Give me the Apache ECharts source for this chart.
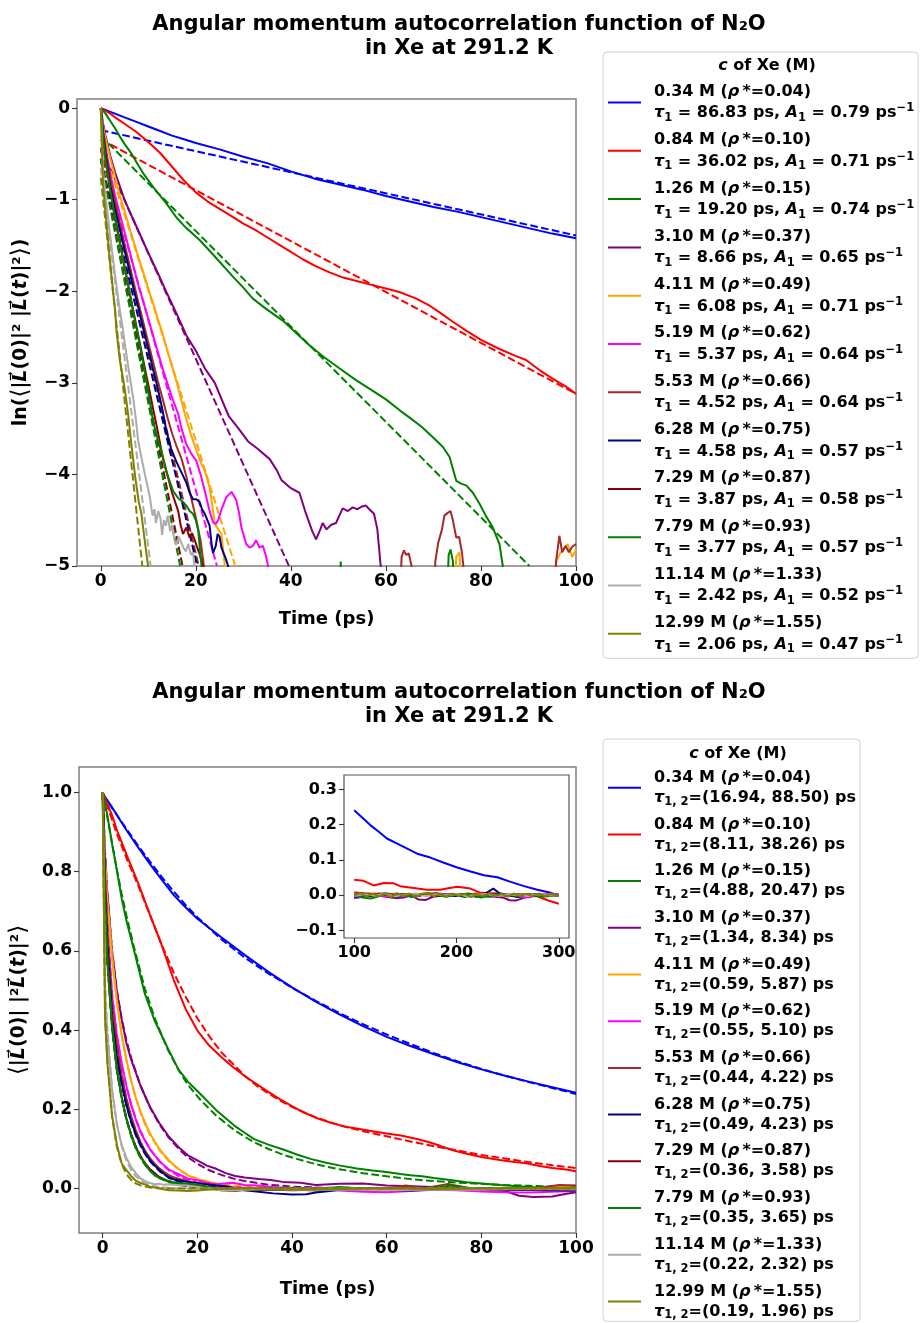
<!DOCTYPE html>
<html><head><meta charset="utf-8">
<script src="https://cdn.jsdelivr.net/npm/echarts@6/dist/echarts.min.js"></script>
<style>html,body{margin:0;padding:0;background:#fff}#c{width:921px;height:1323px}</style>
</head><body><div id="c"></div><script>
// ---------- labels ----------
const conc  = ['0.34','0.84','1.26','3.10','4.11','5.19','5.53','6.28','7.29','7.79','11.14','12.99'];
const rho   = ['0.04','0.10','0.15','0.37','0.49','0.62','0.66','0.75','0.87','0.93','1.33','1.55'];
const tau1  = ['86.83','36.02','19.20','8.66','6.08','5.37','4.52','4.58','3.87','3.77','2.42','2.06'];
const amp1  = ['0.79','0.71','0.74','0.65','0.71','0.64','0.64','0.57','0.58','0.57','0.52','0.47'];
const tauA  = ['16.94','8.11','4.88','1.34','0.59','0.55','0.44','0.49','0.36','0.35','0.22','0.19'];
const tauB  = ['88.50','38.26','20.47','8.34','5.87','5.10','4.22','4.23','3.58','3.65','2.32','1.96'];
const colors = ['#0000FF','#FF0000','#008000','#800080','#FFA500','#FF00FF','#A52A2A','#000080','#8B0000','#008000','#ABABAB','#808000'];
const xTicks = [0,20,40,60,80,100];
const yTicksTop = [-5,-4,-3,-2,-1,0];
const yTicksBot = [0,0.2,0.4,0.6,0.8,1.0];
const xTicksIns = [100,200,300];
const yTicksIns = [-0.1,0,0.1,0.2,0.3];

// ---------- top panel: ln of ACF (solid) ----------
const lnBlue = [[0,0],[1,-0.02],[2,-0.04],[3,-0.06],[5,-0.1],[7.5,-0.15],[10,-0.2],[12.5,-0.25],[15,-0.3],[17.5,-0.34],[20,-0.38],[25,-0.45],[30,-0.53],[35,-0.6],[40,-0.69],[45,-0.77],[50,-0.83],[55,-0.89],[60,-0.96],[65,-1.02],[70,-1.08],[75,-1.13],[80,-1.19],[85,-1.25],[90,-1.31],[95,-1.37],[100,-1.42]];
const lnRed = [[0,0],[1,-0.03],[2,-0.06],[3,-0.1],[5,-0.17],[7.5,-0.26],[10,-0.37],[12.5,-0.49],[15,-0.64],[17.5,-0.79],[20,-0.92],[22.5,-1.02],[25,-1.1],[27.5,-1.18],[30,-1.26],[32.5,-1.33],[35,-1.41],[37.5,-1.49],[40,-1.57],[42.5,-1.65],[45,-1.72],[48,-1.79],[51,-1.85],[54,-1.89],[57,-1.93],[60,-1.97],[63,-2.01],[66.4,-2.08],[69,-2.15],[71.3,-2.23],[74,-2.33],[76.9,-2.43],[80,-2.53],[83.9,-2.63],[87,-2.7],[89.5,-2.75],[92.3,-2.86],[95,-2.95],[97.9,-3.04],[100,-3.12]];
const lnGreen = [[0,0],[1,-0.06],[2,-0.14],[3,-0.22],[4,-0.31],[5,-0.39],[6.5,-0.5],[8.9,-0.71],[11,-0.86],[13.8,-1.04],[16,-1.2],[18,-1.31],[20.8,-1.44],[24,-1.62],[27.8,-1.84],[30,-1.96],[32,-2.08],[35,-2.2],[38.3,-2.32],[41,-2.45],[43.9,-2.59],[47,-2.72],[50.2,-2.84],[53.7,-2.97],[57,-3.08],[60,-3.18],[62.9,-3.3],[65,-3.38],[67.5,-3.48],[70,-3.6],[72,-3.7],[73.4,-3.81],[74.8,-4.07],[75.8,-4.1],[76.9,-4.12],[78.3,-4.2],[79.7,-4.32],[81,-4.45],[82.5,-4.58],[83.9,-4.76],[84.6,-5.0],[85,-5.6]];
const lnPurple = [[0,0],[0.5,-0.17],[1,-0.3],[2,-0.52],[3,-0.7],[4,-0.85],[5,-1.0],[6,-1.12],[8,-1.35],[10,-1.58],[12,-1.8],[14,-2.03],[16,-2.25],[18,-2.48],[20,-2.65],[22,-2.85],[24,-3.0],[26,-3.25],[27,-3.37],[29,-3.5],[31,-3.64],[33,-3.72],[35.5,-3.83],[37,-3.95],[38,-4.06],[40,-4.15],[41.8,-4.2],[43,-4.4],[44.5,-4.62],[45.3,-4.71],[46.2,-4.6],[46.7,-4.53],[47.5,-4.6],[48.5,-4.55],[49.5,-4.53],[50.2,-4.45],[50.9,-4.37],[52,-4.4],[53,-4.36],[54,-4.38],[55,-4.35],[55.8,-4.34],[56.5,-4.38],[57.5,-4.43],[58.2,-4.6],[58.9,-5.0],[59.3,-5.6]];
const lnOrange = [[0,0],[0.5,-0.2],[1,-0.33],[2,-0.55],[3,-0.75],[4,-0.95],[5,-1.12],[6,-1.3],[7,-1.47],[8,-1.64],[9,-1.8],[10,-1.97],[11,-2.13],[12,-2.3],[13,-2.46],[14,-2.65],[15,-2.82],[16,-3.0],[17,-3.2],[18,-3.4],[19,-3.57],[20,-3.72],[21,-3.86],[22,-3.98],[22.9,-4.14],[23.5,-4.35],[24,-4.54],[24.7,-4.6],[25.4,-4.65],[26.1,-5.0],[26.5,-5.6],[74.2,-5.6],[74.8,-4.9],[75.5,-4.85],[76,-5.6],[94.5,-5.6],[95.9,-4.94],[96.8,-4.85],[98.2,-4.76],[99.2,-4.9],[100,-4.82]];
const lnMagenta = [[0,0],[0.5,-0.25],[1,-0.42],[2,-0.72],[3,-0.95],[4,-1.15],[5,-1.35],[6,-1.55],[7,-1.75],[8,-1.95],[9,-2.12],[10,-2.3],[11,-2.48],[12,-2.66],[13,-2.84],[13.8,-2.97],[15,-3.16],[16.3,-3.34],[17,-3.5],[18,-3.67],[19,-3.77],[20.1,-3.85],[21,-4.0],[21.9,-4.18],[22.8,-4.38],[23.6,-4.52],[24.2,-4.54],[24.7,-4.5],[25.5,-4.37],[26.4,-4.25],[27.5,-4.19],[28.5,-4.28],[29.1,-4.42],[29.6,-4.58],[30.6,-4.76],[31.3,-4.8],[32,-4.78],[32.7,-4.72],[33.4,-4.8],[34.1,-4.78],[34.7,-4.88],[35.2,-5.0],[35.6,-5.6]];
const lnBrown = [[0,0],[0.5,-0.25],[1,-0.45],[2,-0.78],[3,-1.02],[4,-1.25],[5,-1.48],[6,-1.7],[7,-1.92],[8,-2.14],[9,-2.35],[10,-2.56],[11,-2.77],[12,-2.98],[13,-3.17],[14,-3.37],[15,-3.55],[16,-3.7],[17,-3.83],[18,-4.02],[19,-4.25],[20,-4.47],[21,-4.72],[21.7,-5.0],[22,-5.6],[62.8,-5.6],[63.3,-4.9],[63.8,-4.83],[64.3,-4.88],[64.8,-4.86],[65.4,-5.0],[65.8,-5.6],[70,-5.6],[70.4,-4.95],[71,-4.75],[71.8,-4.6],[72.3,-4.45],[73,-4.42],[73.6,-4.4],[74.1,-4.5],[74.8,-4.69],[75.4,-4.68],[76,-4.85],[76.3,-5.0],[76.6,-5.6],[95.2,-5.6],[95.8,-4.95],[96.5,-4.67],[97.1,-4.85],[97.8,-4.78],[98.5,-4.85],[99.2,-4.79],[100,-4.76]];
const lnNavy = [[0,0],[0.5,-0.3],[1,-0.5],[2,-0.85],[3,-1.1],[4,-1.32],[5,-1.55],[6,-1.77],[7,-1.99],[8,-2.2],[9,-2.42],[10,-2.63],[11,-2.85],[12,-3.06],[13,-3.3],[13.8,-3.52],[14.8,-3.72],[15.9,-3.86],[17,-3.98],[18,-4.09],[18.7,-4.2],[19.4,-4.27],[20.1,-4.27],[20.8,-4.3],[21.3,-4.38],[21.9,-4.43],[22.9,-4.56],[23.3,-4.75],[23.6,-4.86],[24.2,-4.78],[24.6,-4.65],[25,-4.68],[25.4,-4.8],[25.7,-4.84],[26.3,-4.92],[26.8,-5.0],[27.2,-5.6]];
const lnDarkred = [[0,0],[0.5,-0.32],[1,-0.55],[2,-0.9],[3,-1.2],[4,-1.46],[5,-1.73],[6,-1.99],[7,-2.25],[8,-2.51],[9,-2.77],[10,-3.02],[11,-3.28],[12,-3.53],[13,-3.8],[14,-4.0],[15,-4.2],[16.3,-4.4],[16.8,-4.55],[17.3,-4.65],[18,-4.58],[18.7,-4.69],[19.2,-4.64],[19.8,-4.72],[20.3,-4.8],[20.8,-4.87],[21.5,-5.0],[21.8,-5.6]];
const lnGreen2 = [[0,0],[0.5,-0.32],[1,-0.56],[2,-0.9],[3,-1.2],[4,-1.47],[5,-1.73],[6,-2.0],[7,-2.27],[8,-2.53],[9,-2.8],[10,-3.1],[11,-3.42],[12,-3.62],[13,-3.8],[13.8,-3.97],[15.2,-4.18],[16.3,-4.26],[17.3,-4.3],[18,-4.34],[18.7,-4.4],[19.4,-4.43],[20,-4.5],[20.5,-4.61],[21.2,-5.0],[21.5,-5.6],[50.2,-5.6],[50.5,-4.95],[50.8,-5.6],[72.7,-5.6],[73.2,-4.88],[73.6,-4.82],[74.1,-4.95],[74.5,-5.6]];
const lnGray = [[0,0],[0.5,-0.7],[1,-0.95],[2,-1.4],[3,-1.82],[4,-2.2],[4.7,-2.43],[5,-2.55],[6,-2.9],[6.8,-3.16],[7.4,-3.4],[7.85,-3.63],[8.5,-3.8],[9.25,-3.99],[9.8,-4.12],[10.3,-4.24],[10.9,-4.45],[11.3,-4.38],[11.6,-4.53],[12.1,-4.4],[12.6,-4.49],[12.9,-4.66],[13.3,-4.5],[13.7,-4.56],[14.1,-4.45],[14.6,-4.62],[15,-4.55],[15.5,-4.72],[15.9,-4.77],[16.4,-4.68],[16.9,-4.74],[17.4,-4.8],[17.9,-4.84],[18.4,-4.76],[19,-4.88],[19.4,-4.85],[19.7,-4.99],[20.1,-5.6]];
const lnOlive = [[0,0],[0.5,-0.85],[1,-1.15],[2,-1.7],[3,-2.2],[3.3,-2.43],[4,-2.75],[5,-3.05],[5.75,-3.34],[6.5,-3.7],[7.3,-4.05],[8,-4.3],[8.55,-4.43],[9.2,-4.7],[9.95,-5.0],[10.3,-5.6]];

// ---------- top panel: single-exponential fits (dashed, straight in ln) ----------
const lnFitBlue = [[0,-0.24],[100,-1.39]];
const lnFitRed = [[0,-0.34],[100,-3.12]];
const lnFitGreen = [[0,-0.30],[90.2,-5]];
const lnFitPurple = [[0,-0.43],[39.6,-5]];
const lnFitOrange = [[0,-0.34],[28.3,-5]];
const lnFitMagenta = [[0,-0.45],[24.45,-5]];
const lnFitBrown = [[0,-0.45],[20.6,-5]];
const lnFitNavy = [[0,-0.56],[20.3,-5]];
const lnFitDarkred = [[0,-0.55],[17.2,-5]];
const lnFitGreen2 = [[0,-0.56],[16.7,-5]];
const lnFitGray = [[0,-0.65],[10.5,-5]];
const lnFitOlive = [[0,-0.76],[8.74,-5]];

// ---------- bottom panel: ACF (solid) ----------
const acfBlue = [[0,1.0],[0.5,0.988],[1,0.98],[2,0.962],[3,0.943],[5,0.905],[7.5,0.861],[10,0.819],[12.5,0.779],[15,0.741],[17.5,0.71],[20,0.681],[25,0.635],[30,0.59],[35,0.547],[40,0.508],[45,0.472],[50,0.44],[55,0.41],[60,0.383],[65,0.36],[70,0.339],[75,0.319],[80,0.301],[85,0.285],[90,0.27],[95,0.256],[100,0.242]];
const acfRed = [[0,1.0],[1,0.97],[2,0.942],[3,0.905],[5,0.844],[7.5,0.771],[10,0.691],[12.5,0.613],[15,0.527],[17.5,0.454],[20,0.399],[22.5,0.361],[25,0.333],[27.5,0.307],[30,0.284],[32.5,0.264],[35,0.244],[37.5,0.225],[40,0.208],[42.5,0.192],[45,0.179],[48,0.167],[51,0.157],[54,0.151],[57,0.145],[60,0.139],[63,0.134],[66.4,0.125],[69,0.117],[71.3,0.108],[74,0.097],[76.9,0.088],[80,0.08],[83.9,0.072],[87,0.067],[89.5,0.064],[92.3,0.057],[95,0.052],[97.9,0.048],[100,0.044]];
const acfGreen = [[0,1.0],[1,0.942],[2,0.869],[3,0.803],[4,0.733],[5,0.677],[6.5,0.607],[8.9,0.492],[11,0.423],[13.8,0.353],[16,0.301],[18,0.27],[20.8,0.237],[24,0.198],[27.8,0.159],[30,0.141],[32,0.125],[35,0.111],[38.3,0.098],[41,0.086],[43.9,0.075],[47,0.066],[50.2,0.058],[53.7,0.051],[57,0.046],[60,0.042],[62.9,0.037],[65,0.034],[67.5,0.031],[70,0.027],[73.4,0.022],[76.9,0.016],[80,0.013],[84,0.009],[90,0.004],[95,0.002],[100,0.0]];
const acfPurple = [[0,1.0],[0.5,0.84],[1,0.74],[2,0.595],[3,0.497],[4,0.427],[5,0.368],[6,0.326],[8,0.259],[10,0.206],[12,0.165],[14,0.131],[16,0.105],[18,0.084],[20,0.071],[22,0.058],[24,0.05],[26,0.039],[28,0.032],[30,0.028],[33,0.024],[35.5,0.022],[38,0.017],[41.8,0.015],[45,0.009],[50,0.012],[55,0.013],[60,0.008],[65,0.006],[70,0.004],[75,0.002],[80,0.0],[85,-0.006],[88,-0.018],[91,-0.021],[95,-0.02],[98,-0.013],[100,-0.009]];
const acfOrange = [[0,1.0],[0.5,0.82],[1,0.72],[2,0.577],[3,0.472],[4,0.387],[5,0.326],[6,0.273],[7,0.23],[8,0.194],[9,0.165],[10,0.139],[11,0.119],[12,0.1],[13,0.085],[14,0.071],[15,0.06],[16,0.05],[17,0.041],[18,0.033],[19,0.028],[20,0.024],[22,0.019],[24,0.011],[26,0.006],[28,0.004],[30,0.0],[35,-0.002],[40,0.003],[45,-0.004],[50,0.002],[55,-0.003],[60,0.001],[65,-0.002],[70,0.003],[75,0.006],[80,-0.003],[85,0.002],[90,-0.002],[95,0.005],[100,0.008]];
const acfMagenta = [[0,1.0],[0.5,0.78],[1,0.657],[2,0.487],[3,0.387],[4,0.317],[5,0.259],[6,0.212],[7,0.174],[8,0.142],[9,0.12],[10,0.1],[11,0.084],[12,0.07],[13,0.058],[14,0.048],[15,0.042],[16.3,0.035],[18,0.025],[20,0.021],[22,0.015],[24,0.011],[27.5,0.015],[30,0.009],[33,0.008],[36,0.004],[40,0.001],[45,-0.003],[50,-0.005],[55,-0.008],[60,-0.009],[65,-0.006],[70,-0.003],[75,-0.004],[80,-0.007],[85,-0.009],[90,-0.01],[95,-0.008],[100,-0.006]];
const acfBrown = [[0,1.0],[0.5,0.78],[1,0.638],[2,0.458],[3,0.361],[4,0.287],[5,0.228],[6,0.183],[7,0.147],[8,0.118],[9,0.095],[10,0.077],[11,0.063],[12,0.051],[13,0.042],[14,0.034],[15,0.029],[16,0.025],[17,0.022],[18,0.018],[20,0.011],[22,0.004],[25,-0.002],[30,-0.004],[35,-0.003],[40,-0.002],[45,-0.005],[50,-0.003],[55,-0.002],[60,-0.001],[64,0.008],[68,0.001],[73,0.012],[77,0.002],[80,-0.003],[85,-0.002],[90,-0.001],[96.5,0.009],[100,0.008]];
const acfNavy = [[0,1.0],[0.5,0.74],[1,0.607],[2,0.427],[3,0.333],[4,0.267],[5,0.212],[6,0.17],[7,0.137],[8,0.111],[9,0.089],[10,0.072],[11,0.058],[12,0.047],[13,0.037],[14,0.027],[16,0.021],[18,0.017],[20,0.014],[22,0.011],[24,0.008],[26,0.006],[28,0.0],[30,-0.004],[33,-0.008],[36,-0.012],[40,-0.015],[43,-0.014],[45,-0.01],[48,-0.006],[50,-0.003],[55,-0.002],[60,-0.003],[65,-0.005],[70,-0.002],[75,0.0],[80,-0.002],[85,-0.004],[90,-0.003],[95,-0.004],[100,-0.005]];
const acfDarkred = [[0,1.0],[0.5,0.726],[1,0.577],[2,0.407],[3,0.301],[4,0.232],[5,0.177],[6,0.137],[7,0.105],[8,0.081],[9,0.063],[10,0.049],[11,0.038],[12,0.029],[13,0.022],[14,0.018],[15,0.015],[16,0.012],[18,0.01],[20,0.008],[22,0.003],[25,-0.004],[28,-0.006],[30,-0.003],[35,-0.002],[40,-0.004],[45,-0.003],[50,-0.002],[55,-0.003],[60,-0.004],[65,-0.002],[70,-0.001],[75,-0.002],[80,0.0],[85,-0.002],[90,0.0],[95,-0.001],[100,0.001]];
const acfGreen2 = [[0,1.0],[0.5,0.726],[1,0.571],[2,0.407],[3,0.301],[4,0.23],[5,0.177],[6,0.135],[7,0.103],[8,0.08],[9,0.061],[10,0.045],[11,0.033],[12,0.027],[13,0.022],[14,0.019],[15,0.016],[16,0.014],[18,0.013],[20,0.011],[22,0.005],[25,0.0],[30,-0.003],[35,-0.001],[40,-0.002],[45,-0.001],[50,0.004],[55,0.0],[60,-0.002],[65,-0.001],[70,0.002],[73.5,0.008],[77,0.002],[80,-0.001],[85,0.001],[90,0.0],[95,0.001],[100,0.002]];
const acfGray = [[0,1.0],[0.5,0.5],[1,0.387],[2,0.247],[3,0.162],[4,0.111],[5,0.078],[6,0.055],[7,0.039],[8,0.026],[9,0.019],[10,0.014],[11,0.011],[12,0.012],[13,0.01],[14,0.011],[15,0.01],[16,0.009],[18,0.008],[20,0.005],[22,0.0],[25,-0.004],[28,-0.005],[30,-0.003],[35,-0.001],[40,-0.003],[50,-0.002],[60,-0.004],[70,-0.002],[80,-0.003],[90,-0.001],[100,-0.002]];
const acfOlive = [[0,1.0],[0.5,0.427],[1,0.317],[2,0.183],[3,0.111],[4,0.064],[5,0.047],[6,0.032],[7,0.02],[8,0.014],[9,0.01],[10,0.005],[12,0.0],[14,-0.004],[16,-0.005],[18,-0.006],[20,-0.005],[22,-0.003],[25,-0.001],[30,0.001],[35,0.0],[40,-0.002],[50,-0.001],[60,0.001],[70,-0.001],[80,0.0],[90,0.001],[100,0.0]];

// ---------- bottom panel: bi-exponential fits (dashed) ----------
const acfFitBlue = [[0,0.995],[1,0.977],[2,0.96],[3,0.943],[5,0.908],[7.5,0.865],[10,0.825],[12.5,0.786],[15,0.75],[17.5,0.716],[20,0.685],[25,0.63],[30,0.583],[35,0.543],[40,0.507],[45,0.474],[50,0.443],[55,0.415],[60,0.389],[65,0.365],[70,0.342],[75,0.321],[80,0.302],[85,0.285],[90,0.269],[95,0.254],[100,0.239]];
const acfFitRed = [[0,1.0],[1,0.965],[2,0.93],[3,0.895],[5,0.835],[7.5,0.765],[10,0.69],[12.5,0.615],[15,0.545],[17.5,0.485],[20,0.43],[22.5,0.385],[25,0.345],[27.5,0.315],[30,0.285],[32.5,0.26],[35,0.24],[37.5,0.222],[40,0.206],[45,0.18],[50,0.16],[55,0.145],[60,0.132],[65,0.119],[70,0.107],[75,0.096],[80,0.085],[85,0.076],[90,0.067],[95,0.059],[100,0.052]];
const acfFitGreen = [[0,1.0],[1,0.935],[2,0.87],[3,0.805],[4,0.745],[5,0.69],[6.5,0.615],[8.9,0.505],[11,0.43],[13.8,0.35],[16,0.3],[18,0.262],[20.8,0.222],[24,0.184],[27.8,0.148],[30,0.131],[32,0.117],[35,0.1],[38.3,0.085],[41,0.075],[44,0.065],[47,0.056],[50,0.049],[55,0.039],[60,0.031],[65,0.024],[70,0.019],[75,0.015],[80,0.012],[85,0.009],[90,0.007],[95,0.005],[100,0.004]];
const acfFitPurple = [[0,1.0],[0.5,0.85],[1,0.745],[2,0.6],[3,0.5],[4,0.43],[5,0.375],[6,0.33],[8,0.26],[10,0.205],[12,0.162],[14,0.128],[16,0.101],[18,0.079],[20,0.063],[22,0.049],[24,0.039],[26,0.031],[28,0.024],[30,0.019],[35,0.01],[40,0.005],[50,0.001],[60,0.0],[100,0.0]];
const acfFitOrange = [[0,1.0],[0.5,0.83],[1,0.73],[2,0.585],[3,0.475],[4,0.39],[5,0.325],[6,0.272],[7,0.228],[8,0.192],[9,0.161],[10,0.136],[12,0.097],[14,0.069],[16,0.049],[18,0.035],[20,0.025],[22,0.018],[25,0.011],[30,0.005],[40,0.001],[100,0.0]];
const acfFitMagenta = [[0,1.0],[0.5,0.79],[1,0.66],[2,0.49],[3,0.385],[4,0.315],[5,0.258],[6,0.213],[7,0.176],[8,0.145],[9,0.12],[10,0.099],[12,0.068],[14,0.046],[16,0.032],[18,0.022],[20,0.015],[24,0.007],[30,0.002],[40,0.0],[100,0.0]];
const acfFitBrown = [[0,1.0],[0.5,0.79],[1,0.65],[2,0.46],[3,0.36],[4,0.285],[5,0.226],[6,0.18],[7,0.144],[8,0.115],[9,0.092],[10,0.073],[12,0.047],[14,0.03],[16,0.019],[18,0.012],[20,0.008],[25,0.003],[30,0.001],[100,0.0]];
const acfFitNavy = [[0,1.0],[0.5,0.75],[1,0.61],[2,0.43],[3,0.335],[4,0.265],[5,0.21],[6,0.168],[7,0.135],[8,0.108],[9,0.087],[10,0.069],[12,0.044],[14,0.028],[16,0.018],[18,0.011],[20,0.007],[25,0.002],[30,0.001],[100,0.0]];
const acfFitDarkred = [[0,1.0],[0.5,0.72],[1,0.57],[2,0.405],[3,0.3],[4,0.23],[5,0.177],[6,0.137],[7,0.106],[8,0.082],[9,0.063],[10,0.049],[12,0.029],[14,0.018],[16,0.011],[18,0.006],[20,0.004],[25,0.001],[100,0.0]];
const acfFitGreen2 = [[0,1.0],[0.5,0.73],[1,0.575],[2,0.41],[3,0.3],[4,0.228],[5,0.174],[6,0.133],[7,0.101],[8,0.077],[9,0.059],[10,0.045],[12,0.026],[14,0.016],[16,0.009],[18,0.006],[20,0.003],[25,0.001],[100,0.0]];
const acfFitGray = [[0,1.0],[0.5,0.52],[1,0.4],[2,0.25],[3,0.163],[4,0.108],[5,0.071],[6,0.047],[7,0.031],[8,0.021],[9,0.014],[10,0.009],[12,0.004],[15,0.001],[20,0.0],[100,0.0]];
const acfFitOlive = [[0,1.0],[0.5,0.44],[1,0.32],[2,0.18],[3,0.105],[4,0.062],[5,0.037],[6,0.022],[7,0.013],[8,0.008],[9,0.005],[10,0.003],[12,0.001],[15,0.0],[100,0.0]];

// ---------- inset: ACF tail 100-300 ps ----------
const insBlue = [[100,0.241],[108,0.22],[115.7,0.199],[124,0.18],[132,0.161],[145,0.142],[161.5,0.118],[174.5,0.107],[187,0.093],[200.7,0.079],[213,0.068],[226.8,0.057],[239.9,0.051],[253,0.038],[266,0.026],[279,0.016],[292,0.007],[300,0.0]];
const insRed = [[100,0.044],[109,0.041],[119,0.028],[128.8,0.035],[138.6,0.034],[145,0.026],[158,0.021],[171,0.016],[184,0.016],[192,0.02],[200.7,0.024],[213.7,0.019],[223.5,0.007],[240,0.005],[259,0.0],[279,-0.003],[289,-0.014],[300,-0.024]];
const insGreen = [[100,0.003],[112,-0.004],[124,0.005],[136,-0.006],[148,0.002],[160,-0.003],[172,0.006],[184,-0.002],[196,0.003],[208,-0.005],[220,0.002],[232,-0.004],[244,0.003],[256,-0.002],[268,0.004],[280,-0.003],[292,0.002],[300,0.0]];
const insPurple = [[100,-0.008],[110,-0.004],[120,0.002],[130,-0.003],[140,-0.008],[148,-0.006],[156,0.0],[163,-0.012],[170,-0.013],[177,-0.004],[190,0.002],[200,-0.002],[215,0.003],[230,-0.002],[245,-0.006],[252,-0.014],[258,-0.015],[265,-0.008],[275,0.002],[285,-0.003],[300,0.001]];
const insOrange = [[100,0.008],[110,0.004],[120,0.006],[130,0.001],[140,0.005],[150,-0.002],[160,0.003],[170,0.006],[180,0.002],[190,-0.002],[200,0.004],[210,0.001],[220,0.005],[230,0.0],[240,0.004],[250,0.002],[260,-0.002],[270,0.003],[280,0.001],[290,0.004],[300,0.0]];
const insMagenta = [[100,-0.006],[110,-0.002],[120,0.002],[130,-0.004],[140,0.001],[150,-0.003],[160,0.004],[170,0.002],[180,-0.002],[190,0.003],[200,-0.001],[210,0.002],[220,-0.003],[230,0.001],[240,-0.002],[250,0.003],[260,-0.004],[270,-0.006],[280,0.001],[290,0.003],[300,0.002]];
const insBrown = [[100,0.008],[110,0.006],[120,0.003],[130,0.006],[140,0.002],[150,0.004],[160,0.0],[170,0.003],[180,0.006],[190,0.002],[200,0.004],[210,0.001],[220,0.005],[230,0.002],[240,0.004],[250,-0.001],[260,0.003],[270,0.001],[280,0.004],[290,0.0],[300,0.002]];
const insNavy = [[100,-0.005],[110,0.0],[120,-0.004],[130,0.002],[140,-0.003],[150,0.001],[160,-0.002],[170,0.002],[180,-0.003],[190,0.001],[200,-0.002],[210,0.0],[220,-0.004],[228,0.005],[236,0.019],[242,0.006],[250,0.0],[260,-0.005],[270,0.002],[280,-0.002],[290,0.001],[300,-0.002]];
const insDarkred = [[100,0.001],[110,0.004],[120,-0.002],[130,0.003],[140,0.0],[150,0.004],[160,-0.003],[170,0.002],[180,0.005],[190,-0.001],[200,0.002],[210,0.004],[220,-0.002],[230,0.001],[240,0.003],[250,-0.002],[260,0.002],[270,0.0],[280,0.003],[290,-0.002],[300,0.001]];
const insGreen2 = [[100,0.002],[108,-0.006],[116,-0.009],[124,-0.003],[132,0.004],[140,-0.004],[148,0.002],[156,-0.005],[164,0.003],[172,0.006],[180,0.001],[190,-0.004],[200,0.002],[212,0.005],[224,-0.006],[236,0.001],[248,0.004],[260,-0.003],[272,0.002],[284,-0.004],[300,0.0]];
const insGray = [[100,-0.002],[110,0.003],[120,-0.001],[130,0.004],[140,-0.003],[150,0.002],[160,0.005],[170,-0.002],[180,0.003],[190,0.0],[200,0.004],[210,-0.003],[220,0.002],[230,0.004],[240,-0.002],[250,0.003],[260,0.001],[270,-0.002],[280,0.003],[290,0.0],[300,-0.001]];
const insOlive = [[100,0.0],[106,0.006],[112,-0.004],[118,0.005],[124,-0.003],[130,0.004],[136,-0.005],[142,0.006],[148,-0.002],[154,0.005],[160,-0.004],[166,0.003],[172,0.006],[178,-0.003],[184,0.004],[190,-0.004],[196,0.005],[202,-0.002],[208,0.004],[214,-0.005],[220,0.003],[226,-0.002],[232,0.006],[238,-0.003],[244,0.004],[250,-0.004],[256,0.005],[262,-0.002],[268,0.004],[274,-0.003],[280,0.005],[286,-0.002],[292,0.003],[300,-0.002]];

const topSolid = [lnBlue,lnRed,lnGreen,lnPurple,lnOrange,lnMagenta,lnBrown,lnNavy,lnDarkred,lnGreen2,lnGray,lnOlive];
const topFit = [lnFitBlue,lnFitRed,lnFitGreen,lnFitPurple,lnFitOrange,lnFitMagenta,lnFitBrown,lnFitNavy,lnFitDarkred,lnFitGreen2,lnFitGray,lnFitOlive];
const botSolid = [acfBlue,acfRed,acfGreen,acfPurple,acfOrange,acfMagenta,acfBrown,acfNavy,acfDarkred,acfGreen2,acfGray,acfOlive];
const botFit = [acfFitBlue,acfFitRed,acfFitGreen,acfFitPurple,acfFitOrange,acfFitMagenta,acfFitBrown,acfFitNavy,acfFitDarkred,acfFitGreen2,acfFitGray,acfFitOlive];
const insSolid = [insBlue,insRed,insGreen,insPurple,insOrange,insMagenta,insBrown,insNavy,insDarkred,insGreen2,insGray,insOlive];

// ---------- chart ----------
const F = 'DejaVu Sans';
const AX = '#808080';
const LW = 2;
const DASH = [7.7, 3.3];
const chart = echarts.init(document.getElementById('c'), null, {renderer:'canvas'});
const minusFmt = d => v => (v < -1e-9 ? '\u2212' : '') + Math.abs(v).toFixed(d);
const lbl = (size) => ({fontFamily:F, fontWeight:'bold', fontSize:size, color:'#000'});

function xAx(gi, min, max, ticks, name, gap, size, d) {
  return {type:'value', gridIndex:gi, min, max, name, nameLocation:'middle', nameGap:gap,
    nameTextStyle:{fontFamily:F, fontWeight:'bold', fontSize:18, color:'#000'},
    axisLine:{show:false, onZero:false},
    axisTick:{show:true, inside:false, length:5, customValues:ticks, lineStyle:{color:'#333', width:1.1}},
    axisLabel:Object.assign({customValues:ticks, margin:7, formatter:minusFmt(d)}, lbl(size)),
    splitLine:{show:false}};
}
function yAx(gi, min, max, ticks, name, gap, size, d, rich) {
  return {type:'value', gridIndex:gi, min, max, name, nameLocation:'middle', nameGap:gap, nameRotate:90,
    nameTextStyle:{fontFamily:F, fontWeight:'bold', fontSize:19, color:'#000', rich:rich},
    axisLine:{show:false, onZero:false},
    axisTick:{show:true, inside:false, length:5, customValues:ticks, lineStyle:{color:'#333', width:1.1}},
    axisLabel:Object.assign({customValues:ticks, margin:7, formatter:minusFmt(d)}, lbl(size)),
    splitLine:{show:false}};
}
const nameRich = {
  n:{fontFamily:F, fontWeight:'bold', fontSize:19, color:'#000'},
  i:{fontFamily:F, fontWeight:'bold', fontStyle:'italic', fontSize:19, color:'#000'},
  g:{fontFamily:F, fontWeight:'normal', fontSize:23, color:'#000'}
};
const Lv = 'L\u20D7';
const topYName = '{n|ln(}{g|\u27E8}{n||}{i|'+Lv+'}{n|(0)|\u00B2 |}{i|'+Lv+'}{n|(}{i|t}{n|)|\u00B2}{g|\u27E9}{n|)}';
const botYName = '{g|\u27E8}{n||}{i|'+Lv+'}{n|(0)| |\u00B2}{i|'+Lv+'}{n|(}{i|t}{n|)|\u00B2}{g|\u27E9}';

const series = [];
for (let i = 0; i < 12; i++) {
  const base = {type:'line', showSymbol:false, symbol:'none', smooth:false, clip:true, animation:false, color:colors[i], silent:true};
  series.push(Object.assign({}, base, {name:'T'+i, xAxisIndex:0, yAxisIndex:0, data:topSolid[i], lineStyle:{width:LW, color:colors[i]}, z:2}));
  series.push(Object.assign({}, base, {name:'TF'+i, xAxisIndex:0, yAxisIndex:0, data:topFit[i], lineStyle:{width:LW, color:colors[i], type:DASH}, z:2}));
  series.push(Object.assign({}, base, {name:'B'+i, xAxisIndex:1, yAxisIndex:1, data:botSolid[i], lineStyle:{width:LW, color:colors[i]}, z:2}));
  series.push(Object.assign({}, base, {name:'BF'+i, xAxisIndex:1, yAxisIndex:1, data:botFit[i], lineStyle:{width:LW, color:colors[i], type:DASH}, z:2}));
}
for (let i = 0; i < 12; i++) {
  series.push({type:'line', name:'I'+i, xAxisIndex:2, yAxisIndex:2, data:insSolid[i], showSymbol:false, symbol:'none', clip:true, animation:false, silent:true, color:colors[i], lineStyle:{width:LW, color:colors[i]}, z:5});
}

const legRich = (lh) => ({
  b:{fontFamily:F, fontWeight:'bold', fontSize:16, lineHeight:lh, color:'#000'},
  i:{fontFamily:F, fontWeight:'bold', fontStyle:'italic', fontSize:16, lineHeight:lh, color:'#000'},
  sub:{fontFamily:F, fontWeight:'bold', fontSize:11.5, lineHeight:13, verticalAlign:'bottom', color:'#000'},
  sup:{fontFamily:F, fontWeight:'bold', fontSize:11.5, lineHeight:13, verticalAlign:'top', color:'#000'}
});
const legCommon = {orient:'vertical', selectedMode:false, icon:'rect', itemWidth:33, itemHeight:2,
  backgroundColor:'#fff', borderColor:'#d0d0d0', borderWidth:1, borderRadius:4, itemStyle:{borderWidth:0}};

const titleStyle = {fontFamily:F, fontWeight:'bold', fontSize:21, lineHeight:24, color:'#000'};
const ttl = 'Angular momentum autocorrelation function of N\u2082O\nin Xe at 291.2 K';
const legTitle = '{i|c}{b| of Xe (M)}';
const legTitleRich = {b:{fontFamily:F, fontWeight:'bold', fontSize:16, color:'#000'}, i:{fontFamily:F, fontWeight:'bold', fontStyle:'italic', fontSize:16, color:'#000'}};
const rhoTxt = i => '{b|'+conc[i]+' M (}{i|\u03C1}{b|\u2009*=' + rho[i] + ')}';

chart.setOption({
  backgroundColor:'#fff',
  animation:false,
  title:[
    {text:ttl, left:454, top:8, textAlign:'center', textStyle:titleStyle},
    {text:ttl, left:454, top:676, textAlign:'center', textStyle:titleStyle},
    {text:legTitle, left:762, top:53, textAlign:'center', textStyle:{rich:legTitleRich}},
    {text:legTitle, left:733, top:741, textAlign:'center', textStyle:{rich:legTitleRich}}
  ],
  grid:[
    {left:77, top:99, width:499, height:467, show:true, borderColor:AX, borderWidth:1.5, backgroundColor:'#fff'},
    {left:77, top:767, width:499, height:466, show:true, borderColor:AX, borderWidth:1.5, backgroundColor:'#fff'},
    {left:344, top:775, width:225, height:163, show:true, borderColor:'#555', borderWidth:1.2, backgroundColor:'#fff', z:4}
  ],
  xAxis:[
    xAx(0,-5,100,xTicks,'Time (ps)',44,17,0),
    xAx(1,-5,100,xTicks,'Time (ps)',47,17,0),
    Object.assign(xAx(2,90,310,xTicksIns,'',0,16,0), {z:6})
  ],
  yAxis:[
    yAx(0,-5,0.1,yTicksTop,topYName,27,17,0,nameRich),
    yAx(1,-0.112,1.064,yTicksBot,botYName,35,17,1,nameRich),
    Object.assign(yAx(2,-0.121,0.341,yTicksIns,'',0,16,1,null), {z:6})
  ],
  legend:[
    Object.assign({}, legCommon, {left:603, top:52, padding:[29,4,3,5], itemGap:5.3, data:Array.from({length:12},(_,i)=>'T'+i),
      formatter:name=>{const i=+name.slice(1); return rhoTxt(i)+'\n{i|\u03C4}{sub|1}{b| = '+tau1[i]+' ps, }{i|A}{sub|1}{b| = '+amp1[i]+' ps}{sup|\u22121}';},
      textStyle:{rich:legRich(21.5), lineHeight:21.5, padding:[0,0,0,8]}}),
    Object.assign({}, legCommon, {left:603, top:739, padding:[28.7,4,0,5], itemGap:6.7, data:Array.from({length:12},(_,i)=>'B'+i),
      formatter:name=>{const i=+name.slice(1); return rhoTxt(i)+'\n{i|\u03C4}{sub|1, 2}{b|=('+tauA[i]+', '+tauB[i]+') ps}';},
      textStyle:{rich:legRich(20), lineHeight:20, padding:[0,0,0,8]}})
  ],
  series:series
});
</script></body></html>
